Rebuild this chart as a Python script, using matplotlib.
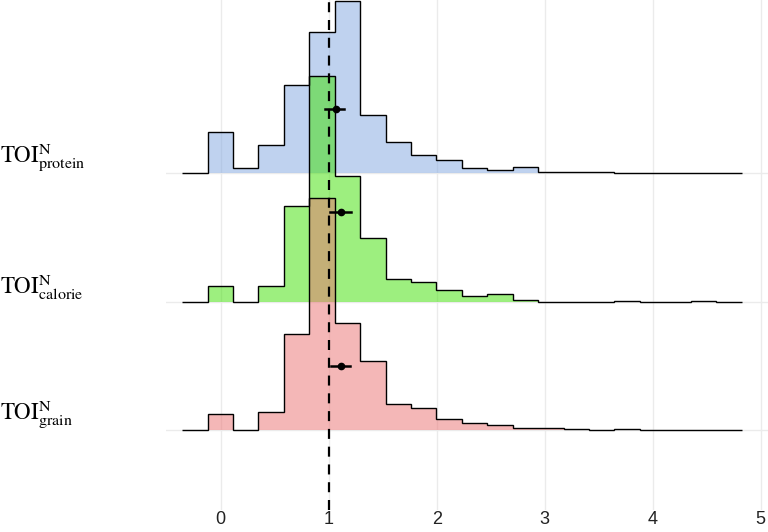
import matplotlib.pyplot as plt
import numpy as np

# bin edges of the histograms (shared by all three ridges)
bin_edges = [-0.357, -0.121, 0.114, 0.35, 0.585, 0.82, 1.056, 1.291, 1.527, 1.762,
             1.998, 2.233, 2.469, 2.704, 2.94, 3.175, 3.411, 3.646, 3.882, 4.117,
             4.353, 4.588, 4.824]

# ridge heights per bin (in ridge units, 1 = distance between ridges)
protein = [0, 0.319, 0.039, 0.218, 0.688, 1.100, 1.340, 0.452, 0.241, 0.145, 0.104,
           0.039, 0.023, 0.047, 0.010, 0.010, 0.010, 0, 0, 0, 0, 0]
calorie = [0, 0.125, 0, 0.125, 0.745, 1.758, 0.979, 0.494, 0.179, 0.153, 0.089,
           0.041, 0.060, 0.016, 0, 0, 0, 0.008, 0, 0, 0.008, 0]
grain = [0, 0.127, 0, 0.143, 0.748, 1.805, 0.833, 0.537, 0.200, 0.169, 0.088,
         0.057, 0.039, 0.013, 0.013, 0.005, 0, 0.008, 0, 0, 0, 0]

# mean with interval, and the height (above baseline) where it is drawn
means = [1.068, 1.117, 1.111]
ci_low = [0.968, 1.013, 1.024]
ci_high = [1.144, 1.211, 1.200]
point_height = [0.50, 0.70, 0.50]

ridge_names = ['protein', 'calorie', 'grain']
ridge_pos = [3, 2, 1]
ridge_colors = [(0.50, 0.65, 0.88, 0.5), (0.24, 0.88, 0.0, 0.5), (0.92, 0.44, 0.44, 0.5)]
x_ticks = [0, 1, 2, 3, 4, 5]

plt.rcParams['mathtext.fontset'] = 'stix'

fig = plt.figure(figsize=(7.68, 5.32), dpi=100)
# panel: x from 166px to the right edge, y from top down to ~510px
ax = fig.add_axes([0.2161, 0.0414, 0.7839, 0.9586])

# ridges, top one first so lower ridges are drawn over it
for vals, pos, col in zip([protein, calorie, grain], ridge_pos, ridge_colors):
    top = np.array(vals) + pos
    ax.stairs(top, bin_edges, baseline=pos, fill=True, color=col, linewidth=0, zorder=2)
    ax.stairs(top, bin_edges, baseline=None, color='black', linewidth=1.0, zorder=3)

# mean and interval markers
for m, lo, hi, h, pos in zip(means, ci_low, ci_high, point_height, ridge_pos):
    ax.plot([lo, hi], [pos + h, pos + h], color='black', linewidth=1.8, zorder=5)
    ax.plot(m, pos + h, 'o', color='black', markersize=4.5, zorder=6)

# reference line at 1
ax.axvline(1, color='black', linestyle=(0, (4.5, 3.5)), linewidth=1.6, zorder=7)

ax.set_xlim(-0.506, 5.068)
ax.set_ylim(0.377, 4.35)

ax.set_xticks(x_ticks)
ax.set_xticklabels([str(t) for t in x_ticks], fontsize=13, family='Liberation Sans',
                   color='#222222')
ax.set_yticks(ridge_pos)
ax.set_yticklabels([r'$\mathrm{TOI}_{\mathrm{%s}}^{\mathrm{N}}$' % n for n in ridge_names],
                   fontsize=16.5, ha='left', va='bottom')
ax.tick_params(axis='y', length=0, pad=119.5)
ax.tick_params(axis='x', length=0, pad=1)

ax.grid(True, color='#ebebeb', linewidth=1.0, zorder=0)
ax.set_axisbelow(True)
for s in ax.spines.values():
    s.set_visible(False)

plt.savefig('out.png', dpi=100)
